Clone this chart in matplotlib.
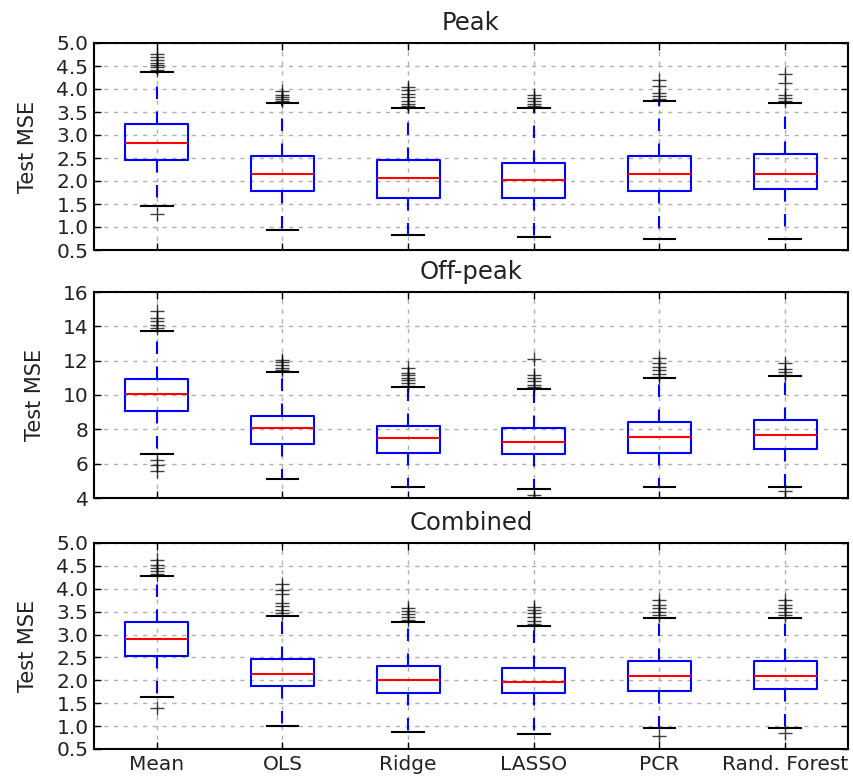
import matplotlib
matplotlib.use("Agg")
import matplotlib.pyplot as plt

methods = ["Mean", "OLS", "Ridge", "LASSO", "PCR", "Rand. Forest"]
titles = ["Peak", "Off-peak", "Combined"]

# Peak
peak_med = [2.82, 2.16, 2.07, 2.02, 2.16, 2.16]
peak_q1 = [2.45, 1.78, 1.64, 1.64, 1.78, 1.83]
peak_q3 = [3.25, 2.54, 2.45, 2.40, 2.54, 2.59]
peak_lo = [1.45, 0.93, 0.83, 0.79, 0.73, 0.73]
peak_hi = [4.37, 3.69, 3.58, 3.58, 3.74, 3.69]
peak_fliers = [
    [4.42, 4.47, 4.52, 4.57, 4.63, 4.7, 4.77, 1.28],
    [3.73, 3.78, 3.83, 3.88, 3.95],
    [3.62, 3.68, 3.75, 3.82, 3.9, 3.97, 4.04],
    [3.63, 3.68, 3.74, 3.8, 3.87],
    [3.79, 3.85, 3.91, 4.06, 4.2],
    [3.73, 3.8, 3.87, 4.13, 4.33],
]

# Off-peak
off_med = [10.06, 8.05, 7.5, 7.27, 7.54, 7.68]
off_q1 = [9.05, 7.15, 6.65, 6.54, 6.65, 6.88]
off_q3 = [10.95, 8.8, 8.18, 8.05, 8.41, 8.55]
off_lo = [6.56, 5.12, 4.64, 4.5, 4.64, 4.64]
off_hi = [13.74, 11.34, 10.45, 10.35, 10.97, 11.08]
off_fliers = [
    [13.9, 14.1, 14.3, 14.5, 14.9, 6.2, 5.9, 5.55],
    [11.45, 11.6, 11.75, 11.9, 12.03],
    [10.55, 10.7, 10.85, 11.0, 11.15, 11.3, 11.55],
    [10.45, 10.6, 10.8, 11.0, 11.15, 12.07, 4.15],
    [11.05, 11.25, 11.45, 11.65, 11.85, 12.15],
    [11.15, 11.35, 11.5, 11.85, 4.38],
]

# Combined
comb_med = [2.9, 2.13, 2.0, 1.96, 2.09, 2.09]
comb_q1 = [2.54, 1.87, 1.72, 1.72, 1.76, 1.81]
comb_q3 = [3.28, 2.46, 2.32, 2.27, 2.42, 2.42]
comb_lo = [1.63, 1.0, 0.87, 0.82, 0.96, 0.96]
comb_hi = [4.28, 3.41, 3.28, 3.18, 3.37, 3.37]
comb_fliers = [
    [4.33, 4.38, 4.45, 4.53, 4.62, 1.4],
    [3.46, 3.53, 3.62, 3.7, 3.88, 3.98, 4.1],
    [3.32, 3.38, 3.45, 3.52, 3.57],
    [3.22, 3.3, 3.38, 3.46, 3.53, 3.6],
    [3.42, 3.5, 3.57, 3.64, 3.76, 0.78],
    [3.42, 3.5, 3.57, 3.64, 3.76, 0.85],
]

panels = [
    (peak_med, peak_q1, peak_q3, peak_lo, peak_hi, peak_fliers, (0.5, 5.0),
     [0.5, 1.0, 1.5, 2.0, 2.5, 3.0, 3.5, 4.0, 4.5, 5.0], "%.1f"),
    (off_med, off_q1, off_q3, off_lo, off_hi, off_fliers, (4, 16),
     [4, 6, 8, 10, 12, 14, 16], "%d"),
    (comb_med, comb_q1, comb_q3, comb_lo, comb_hi, comb_fliers, (0.5, 5.0),
     [0.5, 1.0, 1.5, 2.0, 2.5, 3.0, 3.5, 4.0, 4.5, 5.0], "%.1f"),
]

fig = plt.figure(figsize=(8.54, 7.79), dpi=100)
W, H = 854, 779
boxes = [(43, 250), (292, 498), (543, 749)]
left, right = 94, 848

for i, ((med, q1, q3, lo, hi, fl, ylim, yt, fmt), (top, bot)) in enumerate(zip(panels, boxes)):
    ax = fig.add_axes([left / W, 1 - bot / H, (right - left) / W, (bot - top) / H])
    stats = []
    for j in range(len(methods)):
        stats.append(dict(med=med[j], q1=q1[j], q3=q3[j], whislo=lo[j], whishi=hi[j],
                          fliers=fl[j], label=methods[j]))
    ax.bxp(stats, positions=range(1, 7), widths=0.5, showfliers=True,
           boxprops=dict(color="blue", linewidth=1.5),
           medianprops=dict(color="red", linewidth=1.5),
           whiskerprops=dict(color="blue", linewidth=1.5, linestyle=(0, (6, 6))),
           capprops=dict(color="black", linewidth=1.5),
           flierprops=dict(marker="+", markeredgecolor="black", markersize=10,
                           markeredgewidth=1.0, alpha=0.75, linestyle="none"))
    ax.set_xlim(0.5, 6.5)
    ax.set_ylim(*ylim)
    ax.set_yticks(yt)
    ax.set_yticklabels([fmt % v for v in yt], fontsize=14.5, color="#222222")
    ax.set_xticks(range(1, 7))
    if i == 2:
        ax.set_xticklabels(methods, fontsize=14.5, color="#222222")
    else:
        ax.set_xticklabels([])
    ax.tick_params(direction="in", top=True, right=True, length=5, width=1, pad=4)
    ax.grid(True, color="#b0b0b0", linestyle=(0, (3, 4)), linewidth=1)
    ax.set_axisbelow(True)
    for s in ax.spines.values():
        s.set_linewidth(1.5)
    ax.set_ylabel("Test MSE", fontsize=15, labelpad=13, color="#222222")
    ax.set_title(titles[i], fontsize=17.5, pad=9, color="#222222")

fig.savefig("out.png", dpi=100)
